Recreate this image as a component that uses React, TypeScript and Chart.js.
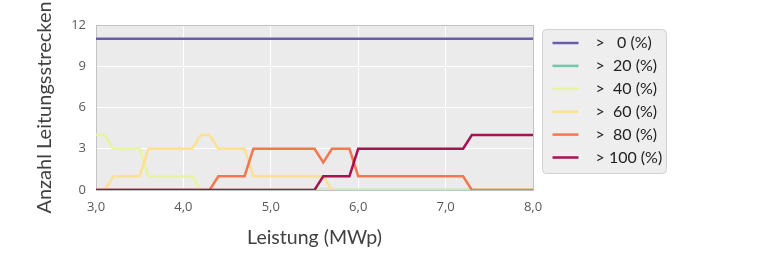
import React, { useEffect, useRef } from "react";
import { Chart, registerables } from "chart.js";

Chart.register(...registerables);

const xValues = [
  3.0, 3.1, 3.2, 3.3, 3.4, 3.5, 3.6, 3.7, 3.8, 3.9,
  4.0, 4.1, 4.2, 4.3, 4.4, 4.5, 4.6, 4.7, 4.8, 4.9,
  5.0, 5.1, 5.2, 5.3, 5.4, 5.5, 5.6, 5.7, 5.8, 5.9,
  6.0, 6.1, 6.2, 6.3, 6.4, 6.5, 6.6, 6.7, 6.8, 6.9,
  7.0, 7.1, 7.2, 7.3, 7.4, 7.5, 7.6, 7.7, 7.8, 7.9,
  8.0,
];

const over0 = [
  11, 11, 11, 11, 11, 11, 11, 11, 11, 11,
  11, 11, 11, 11, 11, 11, 11, 11, 11, 11,
  11, 11, 11, 11, 11, 11, 11, 11, 11, 11,
  11, 11, 11, 11, 11, 11, 11, 11, 11, 11,
  11, 11, 11, 11, 11, 11, 11, 11, 11, 11,
  11,
];
const over20 = [
  0, 0, 0, 0, 0, 0, 0, 0, 0, 0,
  0, 0, 0, 0, 0, 0, 0, 0, 0, 0,
  0, 0, 0, 0, 0, 0, 0, 0, 0, 0,
  0, 0, 0, 0, 0, 0, 0, 0, 0, 0,
  0, 0, 0, 0, 0, 0, 0, 0, 0, 0,
  0,
];
const over40 = [
  4, 4, 3, 3, 3, 3, 1, 1, 1, 1,
  1, 1, 0, 0, 0, 0, 0, 0, 0, 0,
  0, 0, 0, 0, 0, 0, 0, 0, 0, 0,
  0, 0, 0, 0, 0, 0, 0, 0, 0, 0,
  0, 0, 0, 0, 0, 0, 0, 0, 0, 0,
  0,
];
const over60 = [
  0, 0, 1, 1, 1, 1, 3, 3, 3, 3,
  3, 3, 4, 4, 3, 3, 3, 3, 1, 1,
  1, 1, 1, 1, 1, 1, 1, 0, 0, 0,
  0, 0, 0, 0, 0, 0, 0, 0, 0, 0,
  0, 0, 0, 0, 0, 0, 0, 0, 0, 0,
  0,
];
const over80 = [
  0, 0, 0, 0, 0, 0, 0, 0, 0, 0,
  0, 0, 0, 0, 1, 1, 1, 1, 3, 3,
  3, 3, 3, 3, 3, 3, 2, 3, 3, 3,
  1, 1, 1, 1, 1, 1, 1, 1, 1, 1,
  1, 1, 1, 0, 0, 0, 0, 0, 0, 0,
  0,
];
const over100 = [
  0, 0, 0, 0, 0, 0, 0, 0, 0, 0,
  0, 0, 0, 0, 0, 0, 0, 0, 0, 0,
  0, 0, 0, 0, 0, 0, 1, 1, 1, 1,
  3, 3, 3, 3, 3, 3, 3, 3, 3, 3,
  3, 3, 3, 4, 4, 4, 4, 4, 4, 4,
  4,
];

const seriesLabels = [">   0 (%)", ">  20 (%)", ">  40 (%)", ">  60 (%)", ">  80 (%)", "> 100 (%)"];
const seriesValues = [over0, over20, over40, over60, over80, over100];
const seriesColors = [
  "rgba(94,79,162,0.92)",
  "rgba(102,194,165,0.92)",
  "rgba(230,245,152,0.92)",
  "rgba(254,224,139,0.92)",
  "rgba(244,109,67,0.92)",
  "rgba(158,1,66,0.92)",
];

const xTicks = [3, 4, 5, 6, 7, 8];
const yTicks = [0, 3, 6, 9, 12];

const xTitle = "Leistung (MWp)";
const yTitle = "Anzahl Leitungsstrecken";

const plotPlugin = {
  id: "plotDecor",
  beforeDraw(chart: any) {
    const { ctx, chartArea } = chart;
    ctx.save();
    ctx.fillStyle = "#ebebeb";
    ctx.fillRect(chartArea.left, chartArea.top, chartArea.right - chartArea.left, chartArea.bottom - chartArea.top);
    ctx.restore();
  },
  beforeDatasetsDraw(chart: any) {
    const { ctx, chartArea } = chart;
    ctx.save();
    ctx.strokeStyle = "#c2c2c2";
    ctx.lineWidth = 1;
    ctx.strokeRect(
      Math.round(chartArea.left) + 0.5,
      Math.round(chartArea.top) + 0.5,
      Math.round(chartArea.right - chartArea.left),
      Math.round(chartArea.bottom - chartArea.top)
    );
    ctx.restore();
  },
  afterDraw(chart: any) {
    const { ctx, chartArea } = chart;
    const bx = chartArea.right + 9.5;
    const by = chartArea.top + 4.5;
    const bw = 124;
    const bh = 144;
    ctx.save();
    ctx.beginPath();
    ctx.roundRect(bx, by, bw, bh, 4);
    ctx.fillStyle = "#eeeeee";
    ctx.fill();
    ctx.strokeStyle = "#d2d2d2";
    ctx.lineWidth = 1;
    ctx.stroke();
    ctx.font = "16px Lato, 'Open Sans', sans-serif";
    ctx.textBaseline = "middle";
    ctx.textAlign = "left";
    chart.data.datasets.forEach((ds: any, i: number) => {
      const y = by + 13.5 + i * 22.9;
      ctx.beginPath();
      ctx.strokeStyle = ds.borderColor;
      ctx.lineWidth = 2.5;
      ctx.moveTo(bx + 10, y);
      ctx.lineTo(bx + 36, y);
      ctx.stroke();
      ctx.fillStyle = "#222222";
      ctx.fillText(ds.label, bx + 53, y);
    });
    ctx.restore();
  },
};

export default function App() {
  const canvasRef = useRef<HTMLCanvasElement | null>(null);

  useEffect(() => {
    if (!canvasRef.current) return;
    const datasets = seriesLabels.map((label, i) => ({
      label,
      data: xValues.map((x, j) => ({ x, y: seriesValues[i][j] })),
      borderColor: seriesColors[i],
      backgroundColor: seriesColors[i],
      borderWidth: 2.5,
      pointRadius: 0,
      tension: 0,
      fill: false,
      order: seriesLabels.length - i,
    }));
    const chart = new Chart(canvasRef.current, {
      type: "line",
      data: { datasets },
      options: {
        responsive: false,
        animation: false,
        layout: { padding: { left: 0, right: 229, top: 25, bottom: 0 } },
        plugins: {
          legend: { display: false },
          tooltip: { enabled: false },
        },
        scales: {
          x: {
            type: "linear",
            min: 3,
            max: 8,
            afterFit(scale: any) {
              scale.height = 64;
            },
            afterBuildTicks(scale: any) {
              scale.ticks = xTicks.map((v) => ({ value: v }));
            },
            grid: { color: "#ffffff", lineWidth: 1, drawTicks: false },
            border: { display: false },
            ticks: {
              padding: 9,
              color: "#595959",
              font: { family: "'Open Sans', sans-serif", size: 13 },
              callback: (v: any) => Number(v).toFixed(1).replace(".", ","),
            },
            title: {
              display: true,
              text: xTitle,
              color: "#404040",
              font: { family: "Lato, sans-serif", size: 19.5 },
              padding: { top: 0, bottom: 5 },
            },
          },
          y: {
            min: 0,
            max: 12,
            afterFit(scale: any) {
              scale.width = 96;
            },
            afterBuildTicks(scale: any) {
              scale.ticks = yTicks.map((v) => ({ value: v }));
            },
            grid: { color: "#ffffff", lineWidth: 1, drawTicks: false },
            border: { display: false },
            ticks: {
              padding: 10,
              color: "#595959",
              font: { family: "'Open Sans', sans-serif", size: 13 },
            },
            title: {
              display: true,
              text: yTitle,
              color: "#404040",
              font: { family: "Lato, sans-serif", size: 20 },
              padding: { top: 33, bottom: 0 },
            },
          },
        },
      },
      plugins: [plotPlugin],
    } as any);
    return () => chart.destroy();
  }, []);

  return (
    <div style={{ position: "fixed", left: 0, top: 0, width: 762, height: 254, background: "#ffffff" }}>
      <canvas ref={canvasRef} width={762} height={254} style={{ display: "block" }} />
    </div>
  );
}
